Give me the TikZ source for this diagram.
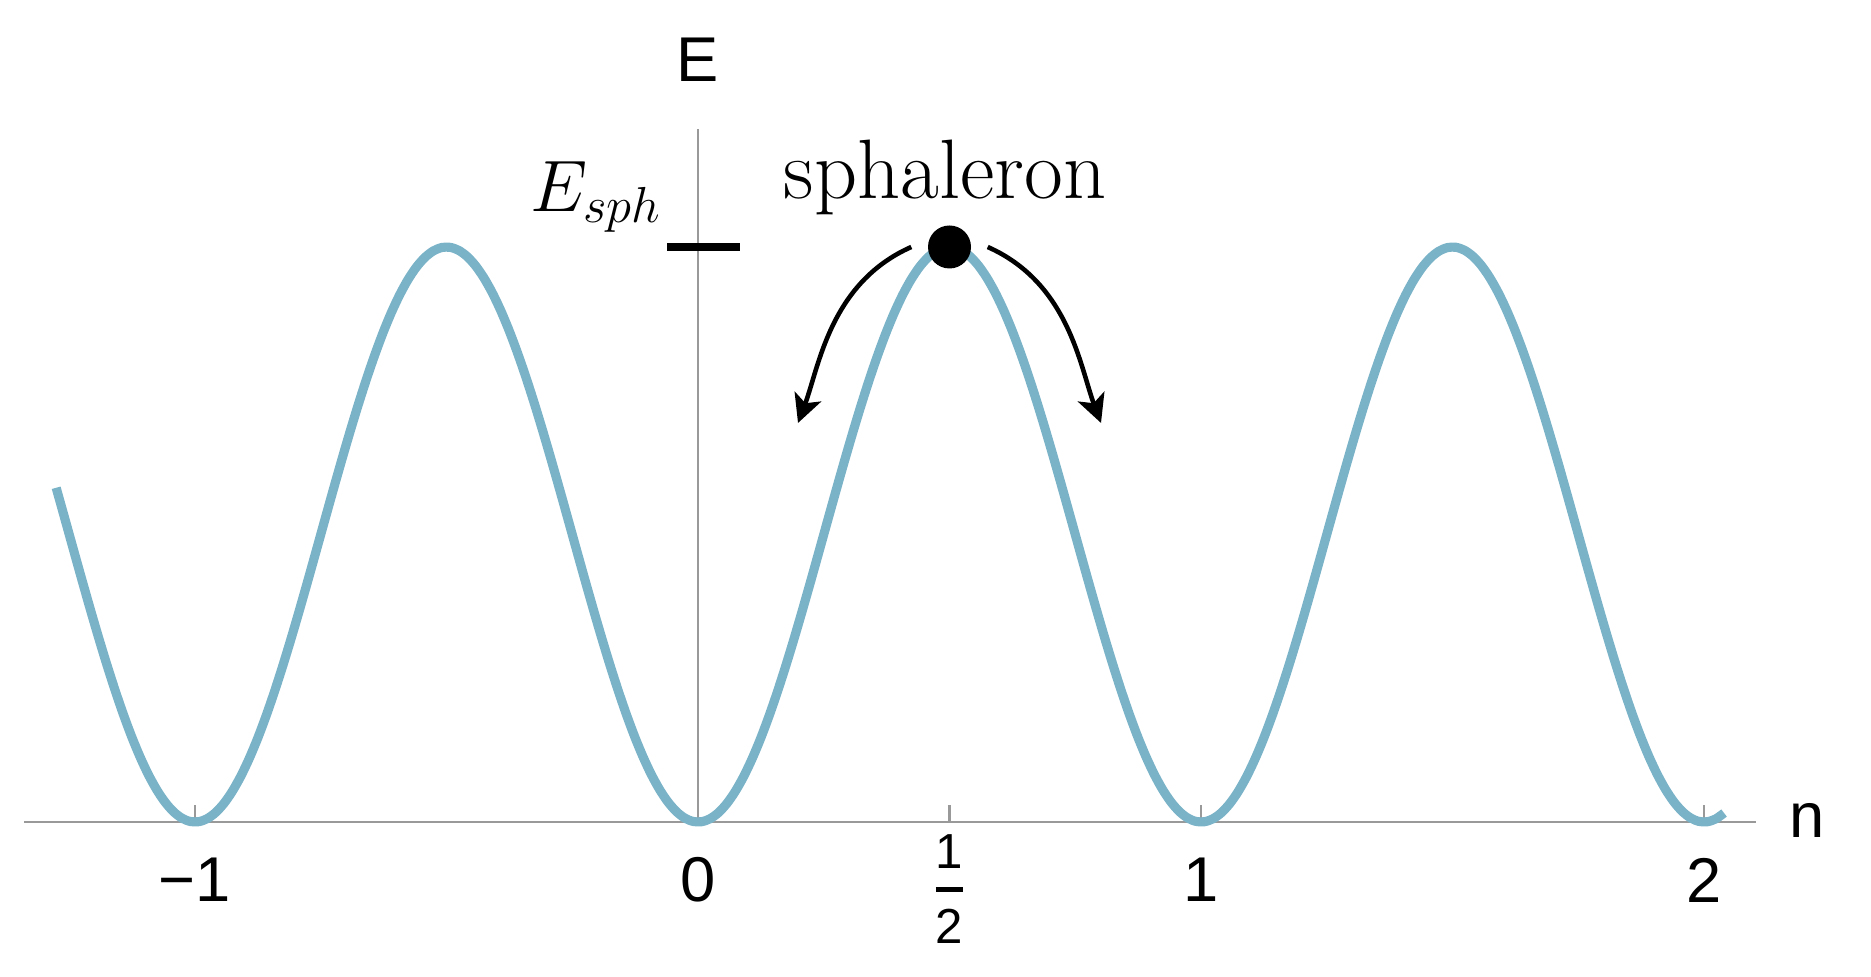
\documentclass[tikz,border=0pt]{standalone}
\usepackage{fontspec}
\setsansfont{Liberation Sans}
\usetikzlibrary{arrows.meta}
\definecolor{curveblue}{RGB}{122,178,200}
\tikzset{
    axis/.style={draw=black!40,line width=0.6pt},
    ticklab/.style={font=\sffamily\fontsize{18}{20}\selectfont},
    roll/.style={line width=1.3pt,->}
}
\begin{document}
\begin{tikzpicture}[>={Stealth[length=8pt,width=8pt,inset=2pt]}]
    \useasboundingbox (-6.98,-1.55) rectangle (11.73,8.22);
    \draw[axis](-6.74,0)--(10.58,0);
    \draw[axis](0,0)--(0,6.93);
    \node[ticklab] (nlab) at (11.09,0.02) {n};
    \node[ticklab] (elab) at (0,7.62) {E};
    \foreach \n/\lab [count=\i] in {-1/−1,0/0,0.5/,1/1,2/2}{
        \draw[axis](5.03*\n,0)--++(0,0.17);
        \node[ticklab] (tick\i) at (5.03*\n,-0.58) {\lab};
    }
    \node[font=\sffamily\fontsize{14}{16}\selectfont] (half) at (2.515,-0.67) {$\displaystyle{\hbox{1}\above 1.6pt\hbox{2}}$};
    \draw[curveblue,line width=2.6pt,smooth,samples=200,domain=-1.276:2.04]plot({5.03*\x},{5.75*pow(sin(180*\x),2)});
    % energy of the sphaleron on the E axis
    \draw[line width=2.3pt](-0.31,5.75)--(0.42,5.75);
    \node[anchor=base east,font=\fontsize{20}{22}\selectfont] (esph) at (-0.24,6.10) {$E_{sph}$};
    \node[anchor=base,font=\fontsize{24}{26}\selectfont] (sphlab) at (2.47,6.23) {sphaleron};
    \node[circle,fill=black,inner sep=0pt,minimum size=0.43cm] (sph) at (2.515,5.75) {};
    \coordinate (ltip) at (1.00,3.99);
    \coordinate (rtip) at (4.03,3.99);
    \draw[roll]([xshift=-0.16cm]sph.west) .. controls (1.32,5.39) and (1.21,4.55) .. (ltip);
    \draw[roll]([xshift=0.16cm]sph.east) .. controls (3.71,5.39) and (3.82,4.55) .. (rtip);
\end{tikzpicture}
\end{document}
